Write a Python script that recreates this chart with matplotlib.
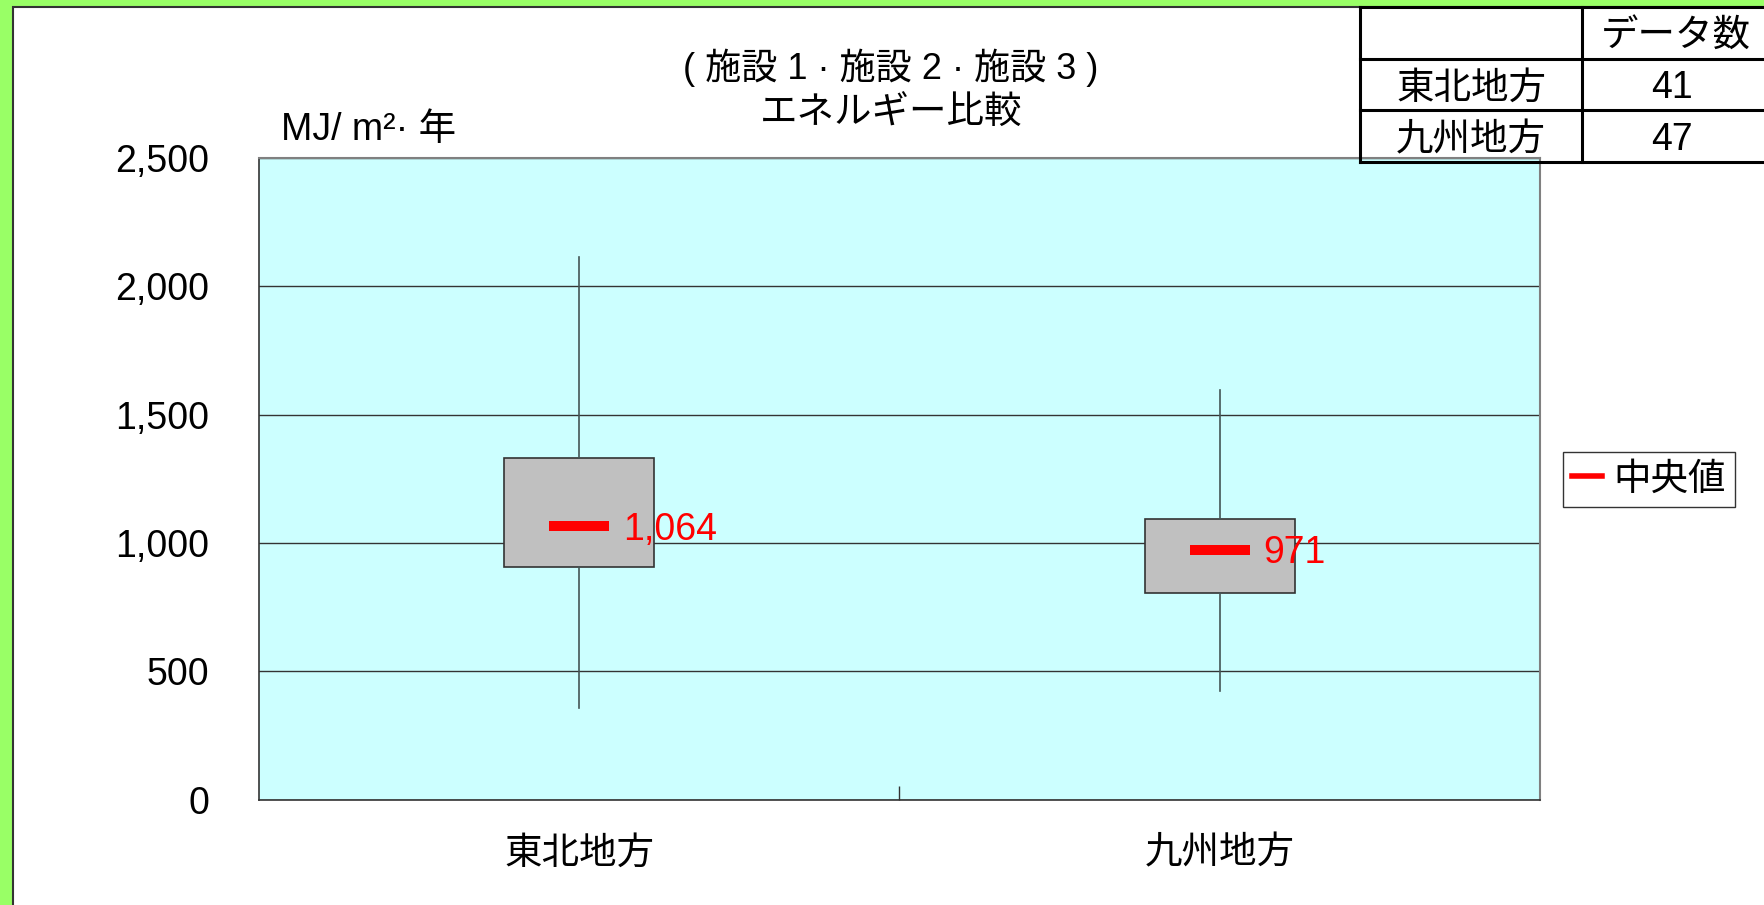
import matplotlib
matplotlib.use("Agg")
import matplotlib.pyplot as plt
from matplotlib.patches import Rectangle
from matplotlib.lines import Line2D

plt.rcParams['font.family'] = ['Liberation Sans', 'Noto Sans CJK JP', 'DejaVu Sans']

# ---- data ----
regions = ['東北地方', '九州地方']
counts = [41, 47]
whisker_low = [355, 422]
q1 = [905, 805]
medians = [1064, 971]
q3 = [1329, 1094]
whisker_high = [2115, 1596]
y_ticks = [0, 500, 1000, 1500, 2000, 2500]

W, H = 1765, 905
DPI = 100
FS = 27

fig = plt.figure(figsize=(W / DPI, H / DPI), dpi=DPI)
fig.patch.set_facecolor('#99FF66')


def fx(x):
    return x / W


def fy(y):
    return 1 - y / H


# white sheet with dark border
fig.patches.append(Rectangle((fx(13), -0.1), 2, fy(7) + 0.1, transform=fig.transFigure,
                             facecolor='white', edgecolor='#333333', linewidth=1.5, zorder=-2))

ax = fig.add_axes([fx(259), fy(799.5), fx(1540) - fx(259), fy(158) - fy(799.5)])
ax.set_zorder(1)
ax.set_facecolor('#CCFFFF')
ax.set_xlim(0, 2)
ax.set_ylim(0, 2500)

positions = [0.5 + i for i in range(len(regions))]
stats = []
for i, r in enumerate(regions):
    stats.append(dict(label=r, med=medians[i], q1=q1[i], q3=q3[i],
                      whislo=whisker_low[i], whishi=whisker_high[i], fliers=[]))

ax.bxp(stats, positions=positions, widths=0.234, showcaps=False, showfliers=False,
       patch_artist=True,
       boxprops=dict(facecolor='#C0C0C0', edgecolor='#333333', linewidth=1.2),
       whiskerprops=dict(color='#445555', linewidth=1.2),
       medianprops=dict(visible=False), zorder=3)

# median markers and value labels
for p, m in zip(positions, medians):
    ax.plot([p - 0.047, p + 0.047], [m, m], color='#FF0000', linewidth=7.2,
            solid_capstyle='butt', zorder=5)
    ax.text(p + 0.068, m - 12, f"{m:,}", color='#FF0000', fontsize=FS,
            ha='left', va='center', zorder=6)

ax.set_yticks(y_ticks)
ax.set_yticklabels([f"{v:,}" for v in y_ticks], fontsize=FS)
ax.yaxis.grid(True, color='#333333', linewidth=1.0)
ax.set_axisbelow(True)
ax.tick_params(axis='y', length=0, pad=36)

ax.set_xticks(positions)
ax.set_xticklabels(regions, fontsize=FS)
ax.tick_params(axis='x', which='major', length=0, pad=26)
ax.set_xticks([1.0], minor=True)
ax.tick_params(axis='x', which='minor', direction='in', length=10, width=1, color='#333333')

for s in ['left', 'bottom']:
    ax.spines[s].set_color('#333333')
    ax.spines[s].set_linewidth(1.2)
for s in ['top', 'right']:
    ax.spines[s].set_color('#808080')
    ax.spines[s].set_linewidth(1.5)

# titles
fig.text(fx(891), fy(68), '( 施設 1 · 施設 2 · 施設 3 )', fontsize=FS - 1, ha='center', va='center')
fig.text(fx(891), fy(114), 'エネルギー比較', fontsize=FS, ha='center', va='center')
fig.text(fx(281), fy(130), 'MJ/ m²· 年', fontsize=FS, ha='left', va='center')

# legend
handle = Line2D([], [], color='#FF0000', linewidth=4)
fig.legend([handle], ['中央値'], loc='upper left', bbox_to_anchor=(fx(1563), fy(452)),
           bbox_transform=fig.transFigure, borderaxespad=0, fontsize=FS,
           handlelength=0.8, handletextpad=0.3, borderpad=0.25, fancybox=False,
           framealpha=1, edgecolor='#333333')

# data count table
tx0, tx1, tx2 = 1360, 1582, 1790
ty = [7, 59, 110, 162]
lw_t = 2.2
fig.patches.append(Rectangle((fx(tx0), fy(ty[-1])), fx(tx2) - fx(tx0), fy(ty[0]) - fy(ty[-1]),
                             transform=fig.transFigure, facecolor='white', edgecolor='none', zorder=-1))
for y in ty:
    fig.add_artist(Line2D([fx(tx0), fx(tx2)], [fy(y), fy(y)], color='black', linewidth=lw_t,
                          transform=fig.transFigure))
for x in [tx0, tx1]:
    fig.add_artist(Line2D([fx(x), fx(x)], [fy(ty[0]), fy(ty[-1])], color='black', linewidth=lw_t,
                          transform=fig.transFigure))
col1_c = (tx0 + tx1) / 2
col2_c = 1672
fig.text(fx(1676), fy((ty[0] + ty[1]) / 2 + 4), 'データ数', fontsize=FS, ha='center', va='center')
for i, (r, c) in enumerate(zip(regions, counts)):
    yc = (ty[i + 1] + ty[i + 2]) / 2 + 4
    fig.text(fx(col1_c), fy(yc), r, fontsize=FS, ha='center', va='center')
    fig.text(fx(col2_c), fy(yc), str(c), fontsize=FS, ha='center', va='center')

fig.savefig('out.png', dpi=DPI, facecolor=fig.get_facecolor())
